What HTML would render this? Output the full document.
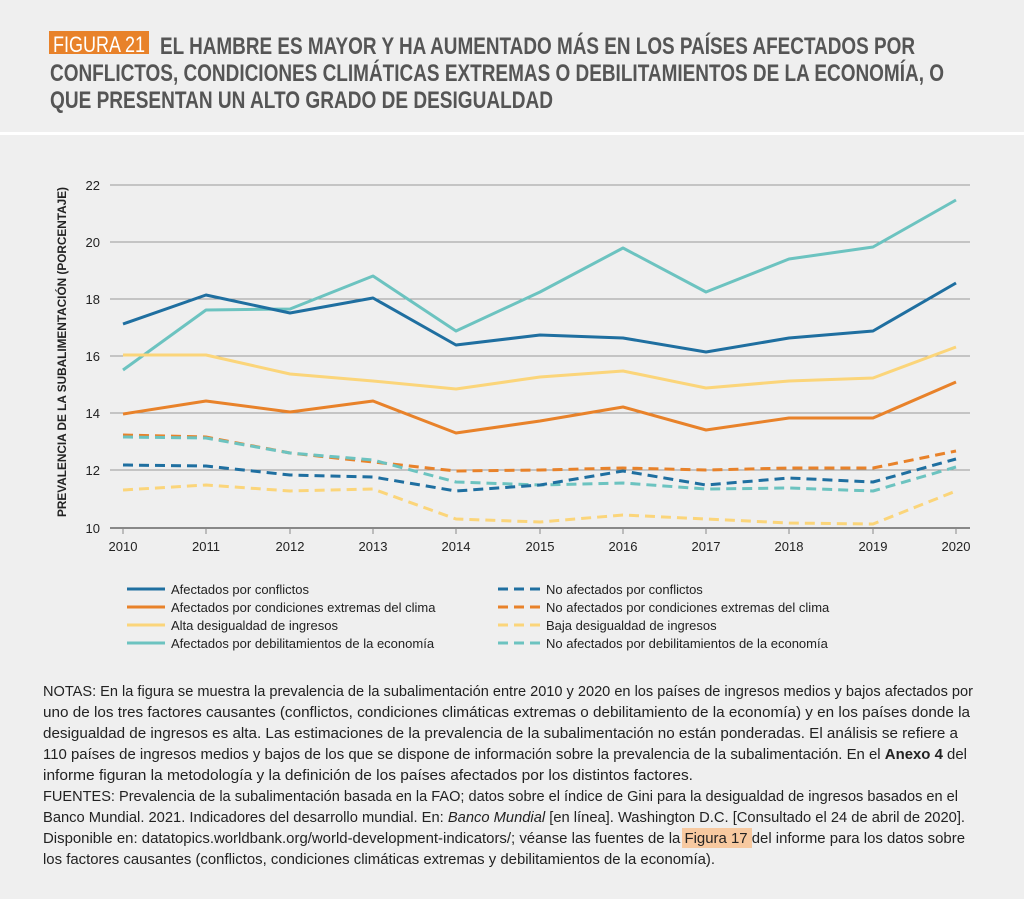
<!DOCTYPE html>
<html><head><meta charset="utf-8"><style>
body{margin:0;width:1024px;height:899px;background:#efefef;overflow:hidden;position:relative}
.sep{position:absolute;left:0;top:132px;width:1024px;height:3px;background:#fff}
</style></head><body>
<div class="sep"></div>
<svg width="1024" height="899" style="position:absolute;left:0;top:0" font-family="Liberation Sans, sans-serif">
<rect x="49" y="31" width="100" height="23" fill="#e8822a"/>
<text x="53" y="52" font-size="22" fill="#fff" textLength="92" lengthAdjust="spacingAndGlyphs">FIGURA 21</text>
<g font-size="24" font-weight="bold" fill="#555">
<text x="160" y="54" textLength="755" lengthAdjust="spacingAndGlyphs">EL HAMBRE ES MAYOR Y HA AUMENTADO MÁS EN LOS PAÍSES AFECTADOS POR</text>
<text x="50" y="81" textLength="894" lengthAdjust="spacingAndGlyphs">CONFLICTOS, CONDICIONES CLIMÁTICAS EXTREMAS O DEBILITAMIENTOS DE LA ECONOMÍA, O</text>
<text x="50" y="108" textLength="503" lengthAdjust="spacingAndGlyphs">QUE PRESENTAN UN ALTO GRADO DE DESIGUALDAD</text>
</g>
<g stroke="#999" stroke-width="1">
<line x1="110" x2="970" y1="185" y2="185"/><line x1="110" x2="970" y1="242" y2="242"/><line x1="110" x2="970" y1="299" y2="299"/><line x1="110" x2="970" y1="356" y2="356"/><line x1="110" x2="970" y1="413" y2="413"/><line x1="110" x2="970" y1="470" y2="470"/>
</g>
<line x1="110" x2="970" y1="528" y2="528" stroke="#888" stroke-width="2"/>
<g stroke="#888" stroke-width="1">
<line x1="123" x2="123" y1="528" y2="534"/><line x1="206" x2="206" y1="528" y2="534"/><line x1="290" x2="290" y1="528" y2="534"/><line x1="373" x2="373" y1="528" y2="534"/><line x1="456" x2="456" y1="528" y2="534"/><line x1="540" x2="540" y1="528" y2="534"/><line x1="623" x2="623" y1="528" y2="534"/><line x1="706" x2="706" y1="528" y2="534"/><line x1="789" x2="789" y1="528" y2="534"/><line x1="873" x2="873" y1="528" y2="534"/><line x1="956" x2="956" y1="528" y2="534"/>
</g>
<g font-size="13" fill="#222" text-anchor="end">
<text x="100" y="190">22</text><text x="100" y="247">20</text><text x="100" y="304">18</text><text x="100" y="361">16</text><text x="100" y="418">14</text><text x="100" y="475">12</text><text x="100" y="533">10</text>
</g>
<g font-size="13" fill="#222" text-anchor="middle">
<text x="123" y="551">2010</text><text x="206" y="551">2011</text><text x="290" y="551">2012</text><text x="373" y="551">2013</text><text x="456" y="551">2014</text><text x="540" y="551">2015</text><text x="623" y="551">2016</text><text x="706" y="551">2017</text><text x="789" y="551">2018</text><text x="873" y="551">2019</text><text x="956" y="551">2020</text>
</g>
<text transform="translate(66,517) rotate(-90)" font-size="12" font-weight="bold" fill="#222" textLength="330" lengthAdjust="spacingAndGlyphs">PREVALENCIA DE LA SUBALIMENTACIÓN (PORCENTAJE)</text>
<g fill="none" stroke-width="3" stroke-linejoin="round">
<polyline stroke="#6cc3c0" points="123,370 206,310 290,309 373,276 456,331 540,292 623,248 706,292 789,259 873,247 956,200"/>
<polyline stroke="#fbd57a" points="123,355 206,355 290,374 373,381 456,389 540,377 623,371 706,388 789,381 873,378 956,347"/>
<polyline stroke="#e8822a" points="123,414 206,401 290,412 373,401 456,433 540,421 623,407 706,430 789,418 873,418 956,382"/>
<polyline stroke="#1f6fa0" points="123,324 206,295 290,313 373,298 456,345 540,335 623,338 706,352 789,338 873,331 956,283"/>
<g stroke-dasharray="10,6">
<polyline stroke="#fbd57a" points="123,490 206,485 290,491 373,489 456,519 540,522 623,515 706,519 789,523 873,524 956,491"/>
<polyline stroke="#e8822a" points="123,435 206,437 290,453 373,462 456,471 540,470 623,468 706,470 789,468 873,468 956,451"/>
<polyline stroke="#6cc3c0" points="123,437 206,438 290,453 373,460 456,482 540,485 623,483 706,489 789,488 873,491 956,467"/>
<polyline stroke="#1f6fa0" points="123,465 206,466 290,475 373,477 456,491 540,485 623,471 706,485 789,478 873,482 956,459"/>
</g>
<line x1="127" x2="165" y1="589" y2="589" stroke="#1f6fa0"/>
<line x1="127" x2="165" y1="607" y2="607" stroke="#e8822a"/>
<line x1="127" x2="165" y1="625" y2="625" stroke="#fbd57a"/>
<line x1="127" x2="165" y1="643" y2="643" stroke="#6cc3c0"/>
<g stroke-dasharray="10,6">
<line x1="498" x2="540" y1="589" y2="589" stroke="#1f6fa0"/>
<line x1="498" x2="540" y1="607" y2="607" stroke="#e8822a"/>
<line x1="498" x2="540" y1="625" y2="625" stroke="#fbd57a"/>
<line x1="498" x2="540" y1="643" y2="643" stroke="#6cc3c0"/>
</g>
</g>
<g font-size="13" fill="#222">
<text x="171" y="594">Afectados por conflictos</text>
<text x="171" y="612">Afectados por condiciones extremas del clima</text>
<text x="171" y="630">Alta desigualdad de ingresos</text>
<text x="171" y="648">Afectados por debilitamientos de la economía</text>
<text x="546" y="594">No afectados por conflictos</text>
<text x="546" y="612">No afectados por condiciones extremas del clima</text>
<text x="546" y="630">Baja desigualdad de ingresos</text>
<text x="546" y="648">No afectados por debilitamientos de la economía</text>
</g>
<rect x="682" y="828" width="70" height="20" fill="#f7c9a0"/>
<g font-size="15" fill="#222">
<text x="43" y="696" textLength="930" lengthAdjust="spacingAndGlyphs">NOTAS: En la figura se muestra la prevalencia de la subalimentación entre 2010 y 2020 en los países de ingresos medios y bajos afectados por</text>
<text x="43" y="717" textLength="927" lengthAdjust="spacingAndGlyphs">uno de los tres factores causantes (conflictos, condiciones climáticas extremas o debilitamiento de la economía) y en los países donde la</text>
<text x="43" y="738" textLength="915" lengthAdjust="spacingAndGlyphs">desigualdad de ingresos es alta. Las estimaciones de la prevalencia de la subalimentación no están ponderadas. El análisis se refiere a</text>
<text x="43" y="759" textLength="924" lengthAdjust="spacingAndGlyphs">110 países de ingresos medios y bajos de los que se dispone de información sobre la prevalencia de la subalimentación. En el <tspan font-weight="bold">Anexo 4</tspan> del</text>
<text x="43" y="780" textLength="650" lengthAdjust="spacingAndGlyphs">informe figuran la metodología y la definición de los países afectados por los distintos factores.</text>
<text x="43" y="801" textLength="915" lengthAdjust="spacingAndGlyphs">FUENTES: Prevalencia de la subalimentación basada en la FAO; datos sobre el índice de Gini para la desigualdad de ingresos basados en el</text>
<text x="43" y="822" textLength="922" lengthAdjust="spacingAndGlyphs">Banco Mundial. 2021. Indicadores del desarrollo mundial. En: <tspan font-style="italic">Banco Mundial</tspan> [en línea]. Washington D.C. [Consultado el 24 de abril de 2020].</text>
<text x="43" y="843" textLength="922" lengthAdjust="spacingAndGlyphs">Disponible en: datatopics.worldbank.org/world-development-indicators/; véanse las fuentes de la Figura 17 del informe para los datos sobre</text>
<text x="43" y="864" textLength="672" lengthAdjust="spacingAndGlyphs">los factores causantes (conflictos, condiciones climáticas extremas y debilitamientos de la economía).</text>
</g>
</svg>
</body></html>
